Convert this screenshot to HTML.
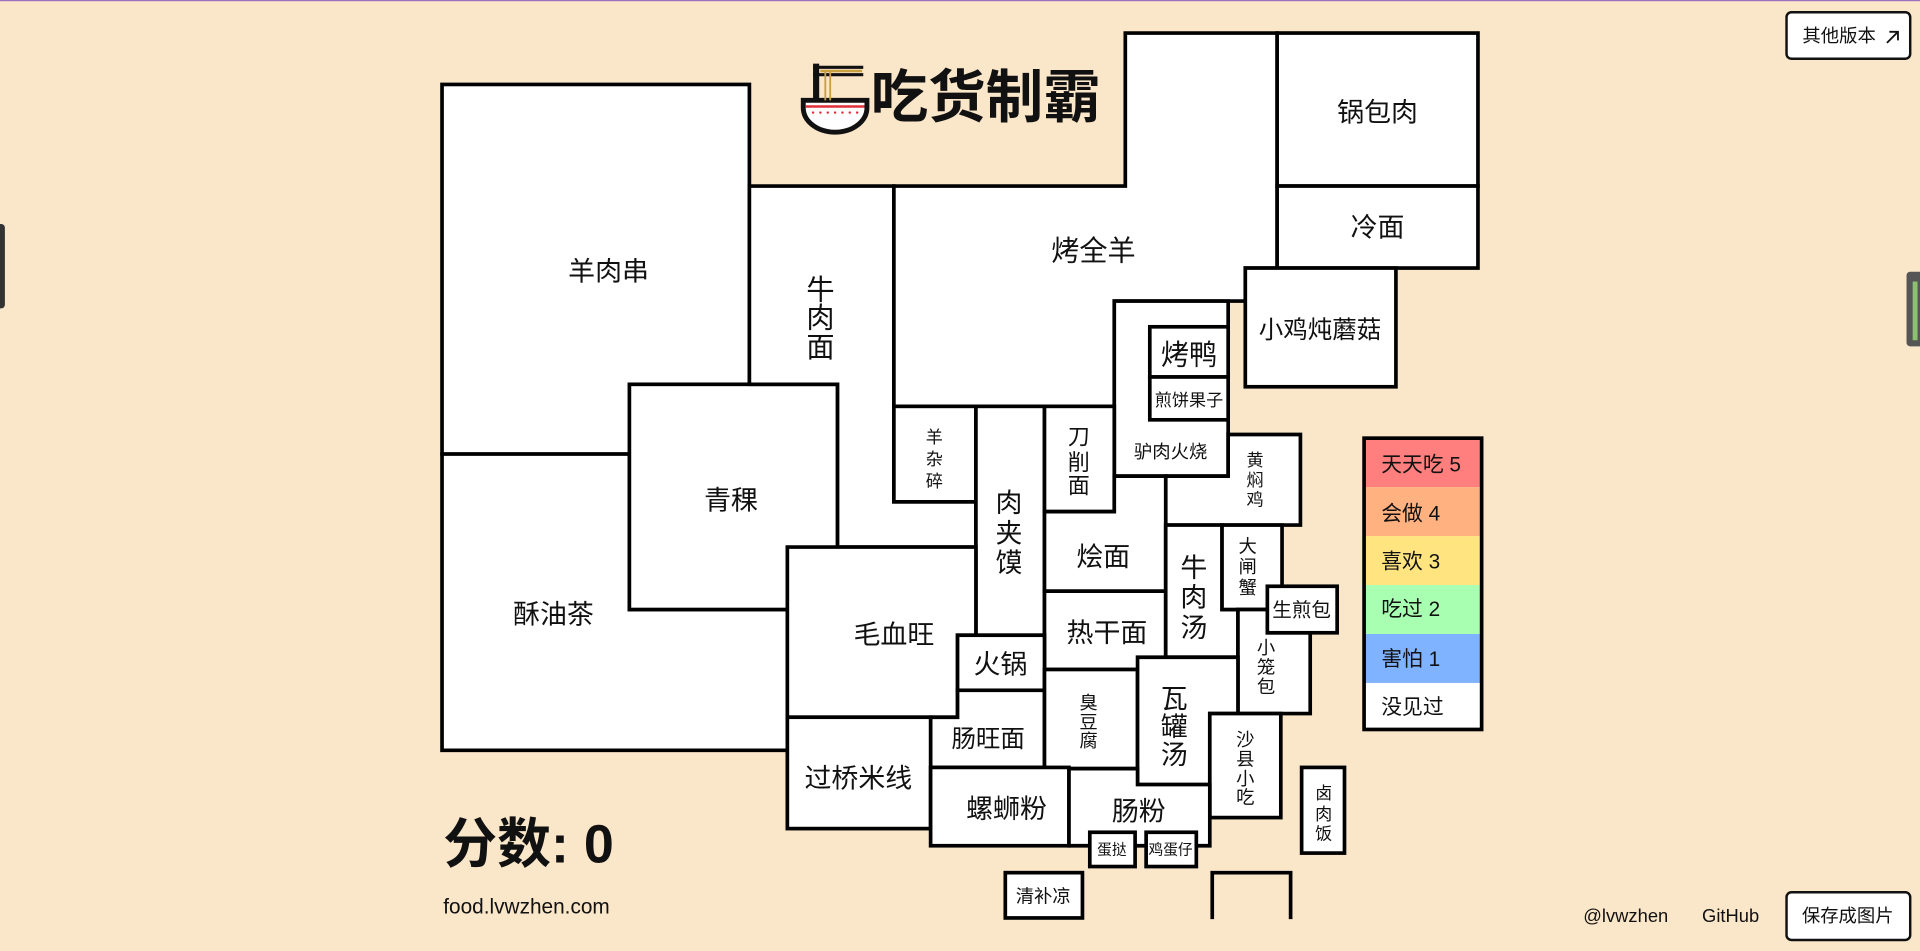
<!DOCTYPE html>
<html><head><meta charset="utf-8"><style>
html,body{margin:0;padding:0;background:#fae6c9;overflow:hidden;width:1920px;height:951px}
svg{display:block}
text{font-family:"Liberation Sans","Noto Sans CJK SC",sans-serif;fill:#111}
</style></head><body>
<svg width="1920" height="951" viewBox="0 0 1568 777" preserveAspectRatio="none" xmlns="http://www.w3.org/2000/svg">
<rect x="0" y="0" width="1568" height="777" fill="#fae6c9"/>
<rect x="0" y="0" width="1568" height="1" fill="#9a70c0"/>
<g fill="#fff" stroke="#000" stroke-width="3" stroke-linejoin="miter">
<rect x="361" y="69" width="251" height="302"/>
<polygon points="361,371 514,371 514,498 643,498 643,613 361,613"/>
<rect x="514" y="314" width="170" height="184"/>
<polygon points="612,152 730,152 730,410 797,410 797,447 684,447 684,314 612,314"/>
<polygon points="919,27 1043,27 1043,219 1017,219 1017,246 910,246 910,332 730,332 730,152 919,152"/>
<rect x="1043" y="27" width="164" height="125"/>
<rect x="1043" y="152" width="164" height="67"/>
<rect x="1017" y="219" width="123" height="97"/>
<rect x="910" y="246" width="93" height="143"/>
<rect x="939" y="267" width="64" height="41"/>
<rect x="939" y="308" width="64" height="35"/>
<rect x="730" y="332" width="67" height="78"/>
<rect x="797" y="332" width="56" height="187"/>
<rect x="853" y="332" width="57" height="86"/>
<polygon points="1003,355 1062,355 1062,429 952,429 952,389 1003,389"/>
<polygon points="853,418 910,418 910,389 952,389 952,483 853,483"/>
<rect x="853" y="483" width="99" height="64"/>
<polygon points="952,429 998,429 998,498 1011,498 1011,537 952,537"/>
<rect x="998" y="429" width="49" height="69"/>
<polygon points="1011,498 1035,498 1035,517 1070,517 1070,583 1011,583"/>
<rect x="1035" y="479" width="57" height="38"/>
<polygon points="643,447 797,447 797,519 782,519 782,586 643,586"/>
<rect x="782" y="519" width="71" height="45"/>
<polygon points="760,586 782,586 782,564 853,564 853,627 760,627"/>
<rect x="643" y="586" width="117" height="91"/>
<rect x="853" y="547" width="76" height="81"/>
<polygon points="929,537 1011,537 1011,583 988,583 988,641 929,641"/>
<rect x="988" y="583" width="58" height="85"/>
<rect x="760" y="627" width="113" height="64"/>
<polygon points="873,628 929,628 929,641 988,641 988,691 873,691"/>
<rect x="890" y="680" width="37" height="28"/>
<rect x="936" y="680" width="41" height="28"/>
<rect x="1063" y="627" width="35" height="70"/>
<rect x="821" y="713" width="63" height="37"/>
</g>
<polyline points="990,751 990,713 1054,713 1054,751" fill="none" stroke="#000" stroke-width="3"/>
<g stroke="none">
<rect x="1114" y="358" width="96" height="40" fill="#ff7f7f"/>
<rect x="1114" y="398" width="96" height="40" fill="#ffb27f"/>
<rect x="1114" y="438" width="96" height="40" fill="#ffe47f"/>
<rect x="1114" y="478" width="96" height="40" fill="#a8ffb2"/>
<rect x="1114" y="518" width="96" height="40" fill="#7fb2ff"/>
<rect x="1114" y="558" width="96" height="38" fill="#fff"/>
</g>
<rect x="1114" y="358" width="96" height="238" fill="none" stroke="#000" stroke-width="3"/>
<g font-size="17" dominant-baseline="central">
<text x="1128" y="380">天天吃 5</text>
<text x="1128" y="420">会做 4</text>
<text x="1128" y="459">喜欢 3</text>
<text x="1128" y="498">吃过 2</text>
<text x="1128" y="539">害怕 1</text>
<text x="1128" y="578">没见过</text>
</g>
<g>
<path d="M656,82 H708 V88 A26,20 0 0 1 656,88 Z" fill="#fff" stroke="#111" stroke-width="4"/>
<line x1="658" y1="87" x2="706" y2="87" stroke="#e0303a" stroke-width="2"/>
<g fill="#e0303a"><circle cx="664" cy="92" r="1"/><circle cx="670" cy="92" r="1"/><circle cx="676" cy="92" r="1"/><circle cx="682" cy="92" r="1"/><circle cx="688" cy="92" r="1"/><circle cx="694" cy="92" r="1"/><circle cx="700" cy="92" r="1"/></g>
<rect x="664" y="52" width="5" height="30" fill="#111"/>
<line x1="664" y1="55" x2="705" y2="55" stroke="#111" stroke-width="2.5"/>
<line x1="664" y1="61" x2="705" y2="61" stroke="#111" stroke-width="2.5"/>
<line x1="670" y1="58" x2="704" y2="58" stroke="#c8a040" stroke-width="2"/>
<line x1="674" y1="58" x2="674" y2="82" stroke="#c8a040" stroke-width="1.5"/>
<line x1="678" y1="58" x2="678" y2="82" stroke="#c8a040" stroke-width="1.5"/>
</g>
<text x="711" y="80" font-size="47" font-weight="bold" dominant-baseline="central">吃货制霸</text>
<g font-size="22" text-anchor="middle" dominant-baseline="central">
<text x="497" y="222">羊肉串</text>
<text x="670" y="237" font-size="23">牛</text><text x="670" y="260" font-size="23">肉</text><text x="670" y="284" font-size="23">面</text>
<text x="893" y="205" font-size="23">烤全羊</text>
<text x="1125" y="92">锅包肉</text>
<text x="1125" y="186">冷面</text>
<text x="1078" y="270" font-size="20">小鸡炖蘑菇</text>
<text x="971" y="290" font-size="23">烤鸭</text>
<text x="971" y="327" font-size="14">煎饼果子</text>
<text x="956" y="369" font-size="15">驴肉火烧</text>
<text x="763" y="357" font-size="14">羊</text><text x="763" y="375" font-size="14">杂</text><text x="763" y="393" font-size="14">碎</text>
<text x="881" y="357" font-size="18">刀</text><text x="881" y="378" font-size="18">削</text><text x="881" y="397" font-size="18">面</text>
<text x="824" y="411">肉</text><text x="824" y="436">夹</text><text x="824" y="460">馍</text>
<text x="1025" y="376" font-size="14">黄</text><text x="1025" y="392" font-size="14">焖</text><text x="1025" y="408" font-size="14">鸡</text>
<text x="597" y="409">青稞</text>
<text x="452" y="502">酥油茶</text>
<text x="901" y="455">烩面</text>
<text x="904" y="517">热干面</text>
<text x="975" y="464">牛</text><text x="975" y="488">肉</text><text x="975" y="513">汤</text>
<text x="1019" y="446" font-size="15">大</text><text x="1019" y="463" font-size="15">闸</text><text x="1019" y="480" font-size="15">蟹</text>
<text x="1063" y="499" font-size="16">生煎包</text>
<text x="1034" y="529" font-size="15">小</text><text x="1034" y="545" font-size="15">笼</text><text x="1034" y="561" font-size="15">包</text>
<text x="730" y="519">毛血旺</text>
<text x="817" y="543">火锅</text>
<text x="807" y="604" font-size="20">肠旺面</text>
<text x="889" y="574" font-size="15">臭</text><text x="889" y="590" font-size="15">豆</text><text x="889" y="605" font-size="15">腐</text>
<text x="959" y="571">瓦</text><text x="959" y="594">罐</text><text x="959" y="617">汤</text>
<text x="1017" y="604" font-size="15">沙</text><text x="1017" y="620" font-size="15">县</text><text x="1017" y="636" font-size="15">小</text><text x="1017" y="651" font-size="15">吃</text>
<text x="701" y="636">过桥米线</text>
<text x="822" y="661">螺蛳粉</text>
<text x="930" y="663">肠粉</text>
<text x="908" y="695" font-size="12">蛋挞</text>
<text x="956" y="695" font-size="12">鸡蛋仔</text>
<text x="1081" y="648" font-size="14">卤</text><text x="1081" y="665" font-size="14">肉</text><text x="1081" y="681" font-size="14">饭</text>
<text x="852" y="732" font-size="15">清补凉</text>
</g>
<text x="362" y="690" font-size="44" font-weight="bold" dominant-baseline="central">分数: 0</text>
<text x="362" y="741" font-size="17" dominant-baseline="central">food.lvwzhen.com</text>
<text x="1293" y="748" font-size="15" dominant-baseline="central">@lvwzhen</text>
<text x="1390" y="748" font-size="15" dominant-baseline="central">GitHub</text>
<rect x="1459" y="729" width="101" height="39" rx="4" fill="#fff" stroke="#111" stroke-width="2"/>
<text x="1509" y="748" font-size="15" text-anchor="middle" dominant-baseline="central">保存成图片</text>
<rect x="1459" y="10" width="101" height="38" rx="4" fill="#fff" stroke="#111" stroke-width="2"/>
<text x="1502" y="29" font-size="15" text-anchor="middle" dominant-baseline="central">其他版本</text>
<path d="M1541,35 L1550,26 M1543,26 H1550 V33" fill="none" stroke="#111" stroke-width="1.5"/>
<rect x="-4" y="183" width="8" height="69" rx="3" fill="#333"/>
<rect x="1557" y="222" width="14" height="61" rx="3" fill="#555"/>
<rect x="1562" y="230" width="4" height="48" fill="#8ac070"/>
</svg>
</body></html>
